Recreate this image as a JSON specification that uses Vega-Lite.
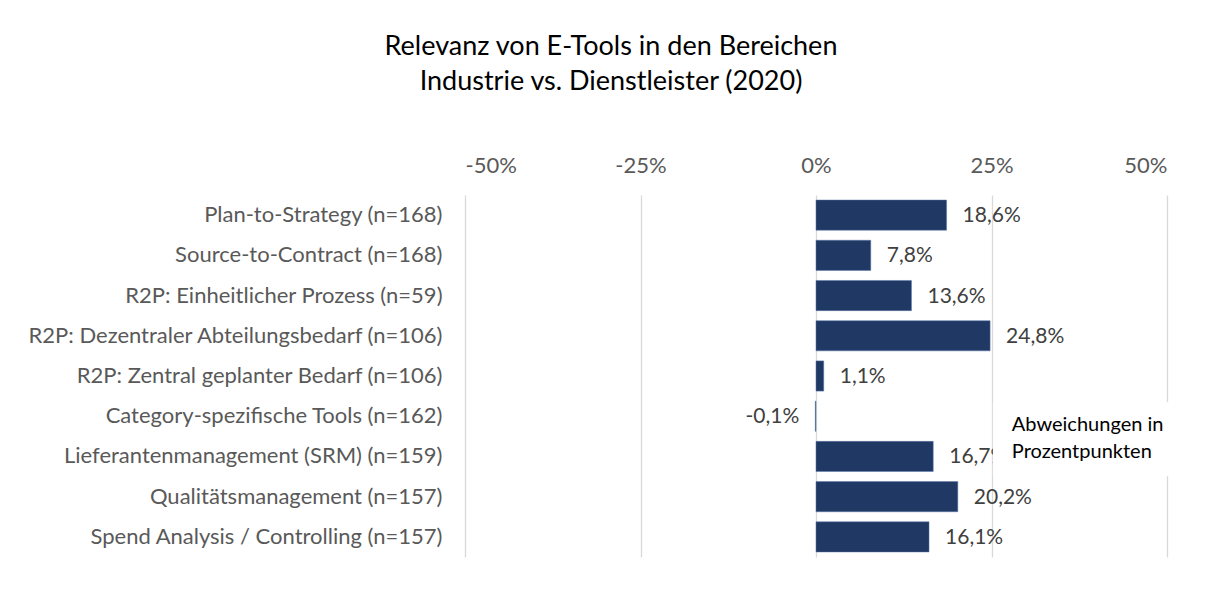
{
  "$schema": "https://vega.github.io/schema/vega-lite/v6.json",
  "width": 702,
  "height": 362,
  "autosize": {"type": "none"},
  "padding": {"left": 465, "top": 195, "right": 45, "bottom": 51},
  "background": "#ffffff",
  "config": {
    "font": "Lato",
    "view": {"stroke": null},
    "locale": {"number": {"decimal": ",", "thousands": ".", "grouping": [3], "currency": ["", " €"], "minus": "-"}}
  },
  "title": {
    "text": ["Relevanz von E-Tools in den Bereichen", "Industrie vs. Dienstleister (2020)"],
    "anchor": "middle",
    "dx": -205,
    "fontSize": 27,
    "fontWeight": "normal",
    "font": "Lato",
    "color": "#000000",
    "lineHeight": 35,
    "offset": 58
  },
  "datasets": {
    "main": [
      {"cat": "Plan-to-Strategy (n=168)", "v": 0.186},
      {"cat": "Source-to-Contract (n=168)", "v": 0.078},
      {"cat": "R2P: Einheitlicher Prozess (n=59)", "v": 0.136},
      {"cat": "R2P: Dezentraler Abteilungsbedarf (n=106)", "v": 0.248},
      {"cat": "R2P: Zentral geplanter Bedarf (n=106)", "v": 0.011},
      {"cat": "Category-spezifische Tools (n=162)", "v": -0.001},
      {"cat": "Lieferantenmanagement (SRM) (n=159)", "v": 0.167},
      {"cat": "Qualitätsmanagement (n=157)", "v": 0.202},
      {"cat": "Spend Analysis / Controlling (n=157)", "v": 0.161}
    ],
    "box": [
      {"x1": 0.252, "x2": 0.514, "r1": 5.15, "r2": 6.99}
    ],
    "note": [
      {"x": 0.279, "r": 5.72, "t": "Abweichungen in"},
      {"x": 0.279, "r": 6.39, "t": "Prozentpunkten"}
    ]
  },
  "layer": [
    {
      "data": {"name": "main"},
      "layer": [
        {
          "mark": {"type": "bar", "color": "#203864", "stroke": "#5b79a8", "strokeWidth": 0.5},
          "encoding": {
            "y": {
              "field": "cat", "type": "nominal", "sort": null, "title": null,
              "scale": {"paddingInner": 0.25, "paddingOuter": 0.125},
              "axis": {"orient": "left", "domain": false, "ticks": false, "tickSize": 0, "labelPadding": 23, "labelFontSize": 22, "labelColor": "#595959", "labelFont": "Lato", "labelLimit": 600, "grid": false}
            },
            "x": {
              "field": "v", "type": "quantitative", "title": null,
              "scale": {"domain": [-0.5, 0.5], "nice": false, "zero": false},
              "axis": {"orient": "top", "values": [-0.5, -0.25, 0, 0.25, 0.5], "format": ".0%", "domain": false, "ticks": false, "tickSize": 0, "labelPadding": 18, "labelFontSize": 22, "labelColor": "#595959", "labelFont": "Lato", "grid": true, "gridColor": "#d9d9d9", "gridWidth": 1.3}
            }
          }
        },
        {
          "transform": [{"filter": "datum.v >= 0"}],
          "mark": {"type": "text", "align": "left", "baseline": "middle", "dx": 16, "dy": 1, "fontSize": 21, "color": "#404040", "font": "Lato"},
          "encoding": {
            "y": {"field": "cat", "type": "nominal", "sort": null},
            "x": {"field": "v", "type": "quantitative", "scale": {"domain": [-0.5, 0.5], "nice": false, "zero": false}},
            "text": {"field": "v", "type": "quantitative", "format": ".1%"}
          }
        },
        {
          "transform": [{"filter": "datum.v < 0"}],
          "mark": {"type": "text", "align": "right", "baseline": "middle", "dx": -16, "dy": 1, "fontSize": 21, "color": "#404040", "font": "Lato"},
          "encoding": {
            "y": {"field": "cat", "type": "nominal", "sort": null},
            "x": {"field": "v", "type": "quantitative", "scale": {"domain": [-0.5, 0.5], "nice": false, "zero": false}},
            "text": {"field": "v", "type": "quantitative", "format": ".1%"}
          }
        }
      ]
    },
    {
      "layer": [
        {
          "data": {"name": "box"},
          "mark": {"type": "rect", "color": "#ffffff"},
          "encoding": {
            "x": {"field": "x1", "type": "quantitative", "scale": {"domain": [-0.5, 0.5], "nice": false, "zero": false}},
            "x2": {"field": "x2"},
            "y": {"field": "r1", "type": "quantitative", "scale": {"domain": [0, 9], "reverse": true, "nice": false, "zero": false}, "axis": null},
            "y2": {"field": "r2"}
          }
        },
        {
          "data": {"name": "note"},
          "mark": {"type": "text", "align": "left", "baseline": "middle", "fontSize": 20, "color": "#000000", "font": "Lato"},
          "encoding": {
            "x": {"field": "x", "type": "quantitative", "scale": {"domain": [-0.5, 0.5], "nice": false, "zero": false}},
            "y": {"field": "r", "type": "quantitative", "scale": {"domain": [0, 9], "reverse": true, "nice": false, "zero": false}, "axis": null},
            "text": {"field": "t", "type": "nominal"}
          }
        }
      ]
    }
  ],
  "resolve": {"scale": {"y": "independent"}, "axis": {"y": "independent"}}
}
